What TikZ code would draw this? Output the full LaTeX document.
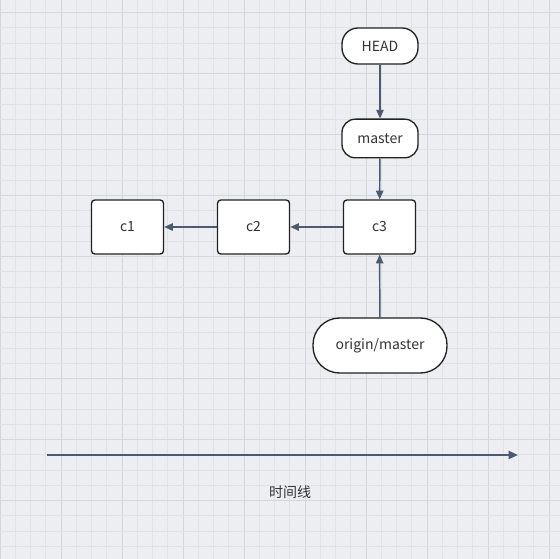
\documentclass[tikz,border=0pt]{standalone}
\usepackage{fontspec}
\setmainfont{Noto Sans CJK SC}
\usetikzlibrary{arrows.meta}
\definecolor{bg}{HTML}{EDEEF2}
\definecolor{gridminor}{HTML}{E1E2E6}
\definecolor{gridmajor}{HTML}{D5D6DB}
\definecolor{edgecol}{HTML}{4B5A6E}
\definecolor{txt}{HTML}{333333}
\definecolor{border}{HTML}{222222}
\tikzset{
  base/.style={draw=border, fill=white, line width=1pt, text=txt,
    font=\fontsize{10.5pt}{12pt}\selectfont, inner sep=0pt},
  pill/.style={base, rounded corners=10pt},
  bigpill/.style={base, rounded corners=20pt},
  commit/.style={base, rounded corners=2.5pt, minimum width=54pt, minimum height=40.5pt},
  link/.style={draw=edgecol, line width=1.1pt, -{Triangle[length=6.5pt,width=5.5pt]}},
  timeline/.style={draw=edgecol, line width=1.5pt, -{Triangle[length=7pt,width=6pt]}}
}
\begin{document}
\begin{tikzpicture}[x=0.75pt,y=-0.75pt]
\fill[bg] (0,0) rectangle (560,559);
\useasboundingbox (0,0) rectangle (560,559);
% grid
\foreach \i in {0,...,37} {
  \pgfmathsetmacro{\xx}{0+15.25*\i}
  \pgfmathtruncatemacro{\m}{mod(\i,4)}
  \ifnum\m=0
    \draw[gridmajor, line width=0.75pt] (\xx,0) -- (\xx,559);
  \else
    \draw[gridminor, line width=0.75pt] (\xx,0) -- (\xx,559);
  \fi
}
\foreach \i in {0,...,36} {
  \pgfmathsetmacro{\yy}{12.7+15.25*\i}
  \pgfmathtruncatemacro{\m}{mod(\i+0,4)}
  \ifnum\m=0
    \draw[gridmajor, line width=0.75pt] (0,\yy) -- (560,\yy);
  \else
    \draw[gridminor, line width=0.75pt] (0,\yy) -- (560,\yy);
  \fi
}
% nodes
\node[pill, minimum width=57pt, minimum height=27pt, rounded corners=12pt] (head) at (380,46) {HEAD};
\node[pill, minimum width=57pt, minimum height=29pt] (master) at (380,138.5) {master};
\node[commit] (c3) at (379.5,227) {c3};
\node[commit] (c2) at (253.5,227) {c2};
\node[commit] (c1) at (127.5,227) {c1};
\node[bigpill, minimum width=100.5pt, minimum height=41.25pt] (origin) at (380,345.5) {origin/master};
% connectors
\draw[link] (head) -- (master);
\draw[link] (master) -- (c3);
\draw[link] (c3) -- (c2);
\draw[link] (c2) -- (c1);
\draw[link] (origin) -- (c3);
% timeline
\coordinate (tstart) at (47,455);
\coordinate (tend) at (518,455);
\draw[timeline] (tstart) -- (tend);
\node[text=txt, font=\fontsize{10.5pt}{12pt}\selectfont, inner sep=0pt] (tlabel) at (290,492) {时间线};
\end{tikzpicture}
\end{document}
